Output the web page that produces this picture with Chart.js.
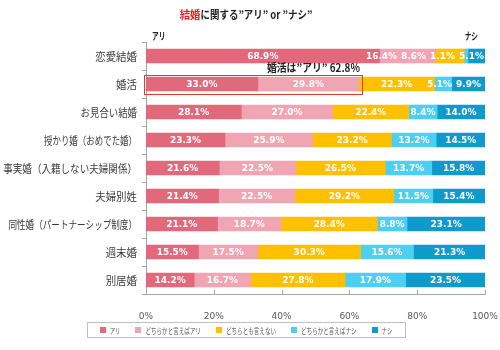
<!DOCTYPE html>
<html>
<head>
<meta charset="utf-8">
<script src="https://cdn.jsdelivr.net/npm/chart.js@4.4.0/dist/chart.umd.min.js"></script>
<style>
  html, body { margin:0; padding:0; background:#fff; }
</style>
</head>
<body>
<canvas id="chart" width="500" height="350"></canvas>
<script>
const categories = ['恋愛結婚','婚活','お見合い結婚','授かり婚（おめでた婚）','事実婚（入籍しない夫婦関係）','夫婦別姓','同性婚（パートナーシップ制度）','週末婚','別居婚']
const seriesNames = ['アリ','どちらかと言えばアリ','どちらとも言えない','どちらかと言えばナシ','ナシ']
const ari         = [68.9, 33.0, 28.1, 23.3, 21.6, 21.4, 21.1, 15.5, 14.2]
const ratherAri   = [16.4, 29.8, 27.0, 25.9, 22.5, 22.5, 18.7, 17.5, 16.7]
const neither     = [ 8.6, 22.3, 22.4, 23.2, 26.5, 29.2, 28.4, 30.3, 27.8]
const ratherNashi = [ 1.1,  5.1,  8.4, 13.2, 13.7, 11.5,  8.8, 15.6, 17.9]
const nashi       = [ 5.1,  9.9, 14.0, 14.5, 15.8, 15.4, 23.1, 21.3, 23.5]
const xTicks = [0, 20, 40, 60, 80, 100]
const highlightRow = 1   // 婚活

const COLORS = ['#e2687b','#f0a5b2','#ffc000','#4dcff2','#0e9acb']
const JP  = '"Noto Sans CJK JP", sans-serif'
const NUM = '"DejaVu Sans", sans-serif'

// canvas has no 'palt', so kana come out full width: squeeze them a bit
function _squeeze(text, size) {
  let w = 0
  for (const ch of text) {
    if (/[\u3040-\u30ff]/.test(ch)) w += 0.7
    else if (/[（）]/.test(ch)) w += 0.85
    else if (/[\x20-\x7e”“]/.test(ch)) w += 0.6
    else w += 1
  }
  return w * size * 0.95
}
function _jpWidth(ctx, text, size) {
  return Math.min(ctx.measureText(text).width, _squeeze(text, size))
}
function _jpText(ctx, text, x, y, size) {
  ctx.fillText(text, x, y, _jpWidth(ctx, text, size))
}

const decorations = {
  id: 'decorations',
  afterDatasetsDraw(chart) {
    const { ctx, chartArea: a, scales: { x, y } } = chart
    ctx.save()

    // value labels, pushed left when they would overlap
    ctx.font = `bold 9px ${NUM}`
    ctx.textBaseline = 'middle'
    ctx.textAlign = 'center'
    ctx.fillStyle = '#fff'
    categories.forEach((_, i) => {
      const items = chart.data.datasets.map((ds, d) => {
        const el = chart.getDatasetMeta(d).data[i]
        const txt = ds.data[i].toFixed(1) + '%'
        return { txt, cx: (el.x + el.base) / 2, w: ctx.measureText(txt).width, y: el.y }
      })
      let limit = a.right - 1
      for (let k = items.length - 1; k >= 0; k--) {
        const it = items[k]
        if (it.cx + it.w / 2 > limit) it.cx = limit - it.w / 2
        limit = it.cx - it.w / 2 - 4
      }
      items.forEach(it => ctx.fillText(it.txt, it.cx, it.y + 0.5))
    })

    // x axis tick marks pointing up
    ctx.strokeStyle = '#a6a6a6'
    ctx.lineWidth = 1
    xTicks.forEach(v => {
      const px = Math.round(x.getPixelForValue(v)) + 0.5
      ctx.beginPath(); ctx.moveTo(px, a.bottom); ctx.lineTo(px, a.bottom - 4); ctx.stroke()
    })

    // category labels
    ctx.fillStyle = '#3a3a3a'
    ctx.textAlign = 'right'
    ctx.font = `11px ${JP}`
    categories.forEach((c, i) => _jpText(ctx, c, a.left - 9, y.getPixelForValue(i) + 0.5, 11))

    // highlight box on 婚活
    const hy = y.getPixelForValue(highlightRow)
    const total = ari[highlightRow] + ratherAri[highlightRow]
    const x0 = x.getPixelForValue(0) - 2, x1 = x.getPixelForValue(total) + 3
    ctx.strokeStyle = '#e0393c'
    ctx.strokeRect(Math.round(x0) + 0.5, Math.round(hy - 9.5) + 0.5, Math.round(x1 - x0), 19)
    ctx.fillStyle = '#222'
    ctx.font = `bold 11px ${JP}`
    _jpText(ctx, `婚活は”アリ” ${total.toFixed(1)}%`, x1 - 2, hy - 16, 11)

    // アリ / ナシ
    ctx.font = `bold 10px ${JP}`
    ctx.textAlign = 'left'
    _jpText(ctx, 'アリ', a.left + 6, 36, 10)
    ctx.textAlign = 'right'
    _jpText(ctx, 'ナシ', a.right - 7, 36, 10)

    // title
    ctx.font = `bold 11px ${JP}`
    ctx.textAlign = 'left'
    const parts = [['結婚', '#e8202a'], ['に関する”アリ” or ”ナシ”', '#222']]
    const tw = parts.reduce((s, p) => s + _jpWidth(ctx, p[0], 11), 0)
    let tx = 246 - tw / 2
    parts.forEach(([t, col]) => {
      ctx.fillStyle = col
      _jpText(ctx, t, tx, 15, 11)
      tx += _jpWidth(ctx, t, 11)
    })

    // legend
    ctx.font = `8px ${JP}`
    const sq = 6, gapIn = 4, gapOut = 15
    const widths = seriesNames.map(n => _jpWidth(ctx, n, 8))
    const lw = widths.reduce((s, w) => s + w + sq + gapIn, 0) + gapOut * (seriesNames.length - 1)
    let lx = 246 - lw / 2
    const ly = 330
    ctx.strokeStyle = '#bfbfbf'
    ctx.strokeRect(87.5, 322.5, 318, 15)
    seriesNames.forEach((n, k) => {
      ctx.fillStyle = COLORS[k]
      ctx.fillRect(Math.round(lx), ly - 3, sq, sq)
      ctx.fillStyle = '#555'
      _jpText(ctx, n, lx + sq + gapIn, ly + 0.5, 8)
      lx += sq + gapIn + widths[k] + gapOut
    })

    ctx.restore()
  }
}

new Chart(document.getElementById('chart'), {
  type: 'bar',
  data: {
    labels: categories,
    datasets: [ari, ratherAri, neither, ratherNashi, nashi].map((d, k) => ({
      label: seriesNames[k], data: d, backgroundColor: COLORS[k], borderWidth: 0, barThickness: 14,
    })),
  },
  options: {
    indexAxis: 'y',
    responsive: false,
    devicePixelRatio: 1,
    animation: false,
    layout: { padding: { top: 42, right: 15, bottom: 0, left: 0 } },
    plugins: { legend: { display: false }, tooltip: { enabled: false }, title: { display: false } },
    scales: {
      x: {
        stacked: true, min: 0, max: 100,
        afterBuildTicks: s => { s.ticks = xTicks.map(v => ({ value: v })) },
        afterFit: s => { s.height = 56; s.paddingLeft = 0; s.paddingRight = 0 },
        grid: { display: false },
        border: { display: true, color: '#a6a6a6' },
        ticks: { callback: v => v + '%', font: { family: NUM, size: 9 }, color: '#595959', padding: 9, maxRotation: 0 },
      },
      y: {
        stacked: true,
        afterFit: s => { s.width = 146; s.paddingTop = 0; s.paddingBottom = 0 },
        grid: { drawOnChartArea: false, offset: true, tickLength: 4, color: '#a6a6a6' },
        border: { display: true, color: '#a6a6a6' },
        ticks: { display: false },
      },
    },
  },
  plugins: [decorations],
})
</script>
</body>
</html>
